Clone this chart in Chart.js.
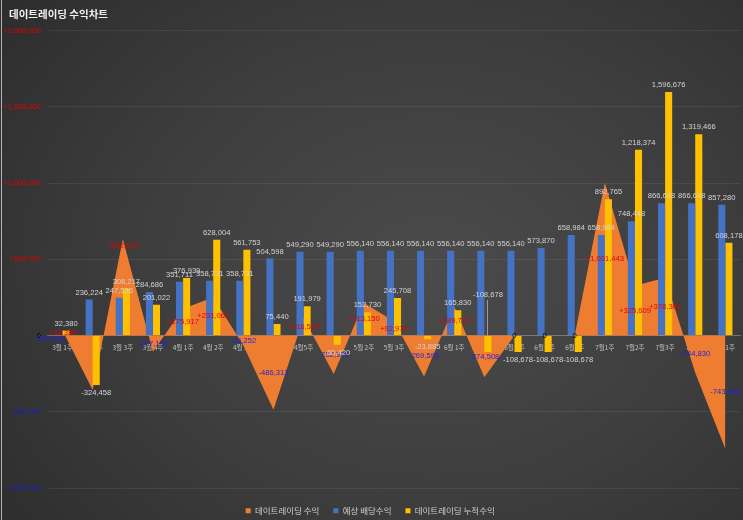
<!DOCTYPE html>
<html><head><meta charset="utf-8">
<script src="https://cdn.jsdelivr.net/npm/chart.js@4.4.1/dist/chart.umd.min.js"></script>
<style>
html,body{margin:0;padding:0;background:#333;}
#wrap{position:relative;width:743px;height:520px;overflow:hidden;
 background: radial-gradient(ellipse 80% 90% at 58% 52%, #4b4b4b 0%, #3d3d3d 50%, #2a2a2a 100%);}
#edge{position:absolute;left:1px;top:0;width:1px;height:520px;background:#b4b4b4;}
canvas{position:absolute;left:0;top:0;}
</style></head><body>
<div id="wrap"><canvas id="c" width="743" height="520"></canvas><div id="edge"></div></div>
<script>
const chartTitle = '데이트레이딩 수익차트';
const categories = ['3월 1주','3월 2주','3월 3주','3월 4주','4월 1주','4월 2주','4월 3주','4월 4주','4월5주','5월 1주','5월 2주','5월 3주','5월 4주','6월 1주','6월 2주','6월 3주','6월 4주','6월5주','7월1주','7월2주','7월3주','7월4주','8월1주'];
const seriesNames = ['데이트레이딩 수익','예상 배당수익','데이트레이딩 누적수익'];
const dayTradeProfit = [32380,-356838,632675,-107195,175917,251065,-66252,-486313,116539,-252399,213150,92978,-269593,189715,-274508,0,0,0,1001443,325609,378302,-244830,-743668];
const expectedDividend = [null,236224,247536,284686,351711,358731,358731,504598,549290,549290,556140,556140,556140,556140,556140,556140,573870,658984,658984,748448,866648,866648,857280];
const cumulativeProfit = [32380,-324458,308217,201022,376939,628004,561753,75440,191979,-60420,152730,245708,-23885,165830,-108678,-108678,-108678,-108678,892765,1218374,1596676,1319466,608178];
const yTicks = {min:-1000000, max:2000000, step:500000};

const fmt = n => n.toLocaleString('en-US');
const RED = '#e60000', BLUE = '#2424d4';
const KR = '"Noto Sans CJK KR", "Noto Sans", sans-serif';
const NUM = '"Liberation Sans", Arial, sans-serif';

const titlePlugin = {
  id: 'titleText',
  afterDraw(chart) {
    const ctx = chart.ctx;
    ctx.save();
    ctx.font = 'bold 10.5px ' + KR;
    ctx.fillStyle = '#f0f0f0';
    ctx.textBaseline = 'middle';
    ctx.textAlign = 'left';
    ctx.fillText(chartTitle, 9, 14.5);
    ctx.restore();
  }
};

const valueLabels = {
  id: 'valueLabels',
  afterDatasetsDraw(chart, args, opts) {
    const ctx = chart.ctx;
    const y0 = chart.scales.y.getPixelForValue(0);
    ctx.save();
    ctx.textAlign = 'center';
    ctx.textBaseline = 'middle';
    ctx.font = '7.6px ' + NUM;
    chart.data.datasets.forEach((ds, di) => {
      const meta = chart.getDatasetMeta(di);
      meta.data.forEach((el, i) => {
        const v = ds.data[i];
        if (v == null) return;
        let x = el.x, y, text, color;
        if (ds.type === 'line') {
          y = (y0 + el.y) / 2;
          text = v > 0 ? '+' + fmt(v) : fmt(v);
          color = v > 0 ? RED : (v < 0 ? BLUE : '#000');
        } else {
          y = v >= 0 ? el.y - 7 : el.y + 8;
          text = fmt(v);
          color = '#d4d4d4';
        }
        const n = (opts.nudges || []).find(o => o.dataset === di && o.index === i);
        if (n) {
          x += n.dx || 0; y += n.dy || 0;
          if (n.leader) {
            ctx.strokeStyle = 'rgba(190,190,190,0.7)';
            ctx.lineWidth = 1;
            ctx.beginPath();
            ctx.moveTo(Math.round(x) - 0.5, y + 5);
            ctx.lineTo(Math.round(x) - 0.5, y0);
            ctx.stroke();
          }
        }
        ctx.fillStyle = color;
        ctx.fillText(text, x, y);
      });
    });
    ctx.restore();
  }
};

new Chart(document.getElementById('c'), {
  type: 'bar',
  data: {
    labels: categories,
    datasets: [
      { type: 'line', label: seriesNames[0], data: dayTradeProfit, fill: 'origin',
        backgroundColor: '#ee7d31', borderColor: 'rgba(0,0,0,0)', borderWidth: 0,
        pointRadius: 0, tension: 0, order: 3 },
      { label: seriesNames[1], data: expectedDividend, backgroundColor: '#4472c4', order: 1 },
      { label: seriesNames[2], data: cumulativeProfit, backgroundColor: '#ffc000', order: 2 }
    ]
  },
  options: {
    responsive: false,
    animation: false,
    layout: { padding: { top: 30.5, left: 0, right: 2.5, bottom: -4.9 } },
    datasets: { bar: { categoryPercentage: 0.47, barPercentage: 1.0 } },
    scales: {
      x: {
        position: { y: 0 },
        z: 1,
        grid: { display: false, drawTicks: false },
        border: { display: true, color: 'rgba(200,200,200,0.35)', width: 1 },
        ticks: { color: '#c4c4c4', font: { family: KR, size: 6.5 }, padding: 8,
                 autoSkip: false, maxRotation: 0, minRotation: 0 }
      },
      y: {
        min: yTicks.min, max: yTicks.max,
        grid: { color: 'rgba(255,255,255,0.07)', drawTicks: false },
        border: { display: false },
        ticks: {
          stepSize: yTicks.step, padding: 6.5,
          font: { family: NUM, size: 7.5 },
          color: c => c.tick.value > 0 ? '#e00000' : (c.tick.value < 0 ? '#1c1cd0' : '#000'),
          callback: v => v > 0 ? '+' + fmt(v) : fmt(v)
        },
        afterFit(scale) { scale.width = 47.5; }
      }
    },
    plugins: {
      title: { display: false },
      tooltip: { enabled: false },
      legend: {
        position: 'bottom',
        title: { display: true, text: ' ', font: { size: 2 }, padding: 1 },
        labels: { color: '#d0d0d0', font: { family: KR, size: 8.5 }, boxWidth: 5, boxHeight: 5, padding: 14,
                  sort: (a, b) => a.datasetIndex - b.datasetIndex }
      },
      valueLabels: {
        nudges: [
          { dataset: 0, index: 1, dx: -43, dy: -24 },
          { dataset: 0, index: 2, dy: -41 },
          { dataset: 2, index: 14, dy: -65, leader: true }
        ]
      }
    }
  },
  plugins: [titlePlugin, valueLabels]
});
</script>
</body></html>
